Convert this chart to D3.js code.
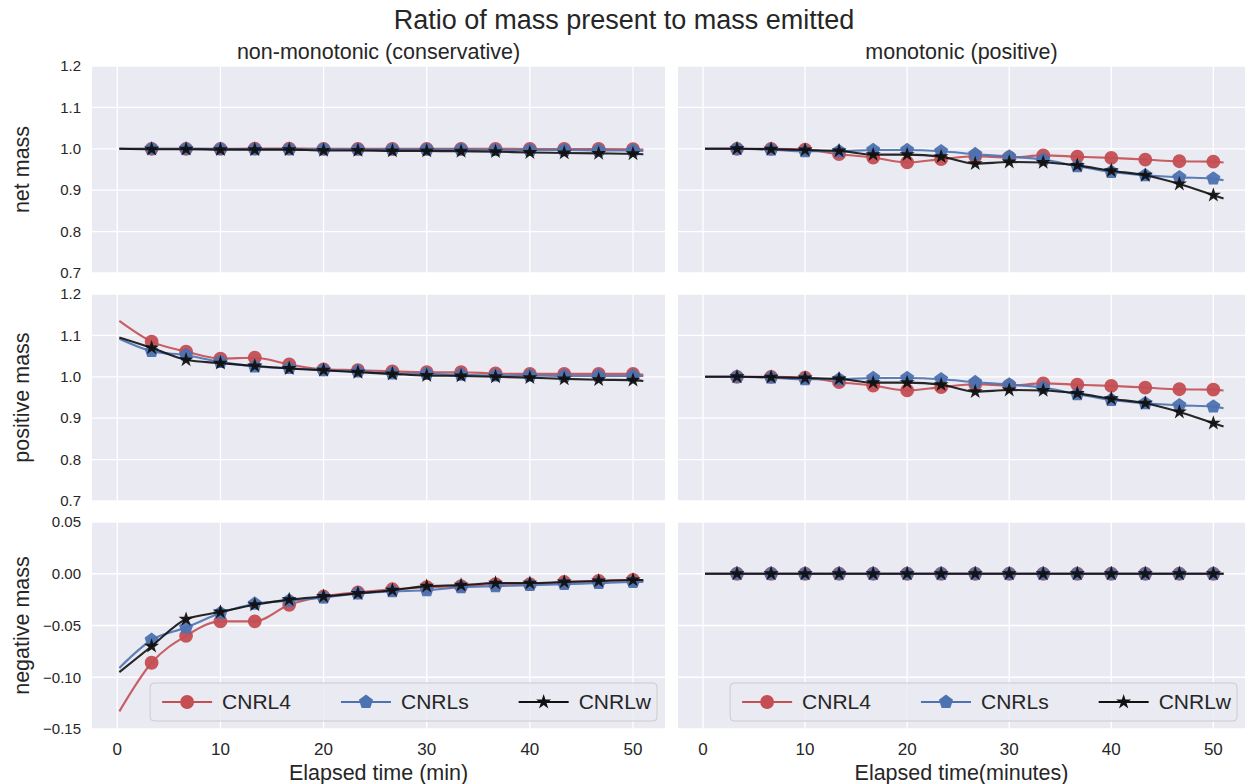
<!DOCTYPE html>
<html>
<head>
<meta charset="utf-8">
<script src="https://cdn.jsdelivr.net/npm/d3@7"></script>
<style>
  body { margin: 0; background: #fff; }
  text { font-family: "Liberation Sans", Arial, sans-serif; fill: #262626; }
</style>
</head>
<body>
<svg id="chart" width="1248" height="784"></svg>
<script>
// time axis (minutes); markers sit on every entry except the first and last
var minutes = [0.2, 3.33, 6.67, 10, 13.33, 16.67, 20, 23.33, 26.67, 30, 33.33, 36.67, 40, 43.33, 46.67, 50, 51];

var seriesNames = ["CNRL4", "CNRLs", "CNRLw"];
var colTitles = ["non-monotonic (conservative)", "monotonic (positive)"];
var rowLabels = ["net mass", "positive mass", "negative mass"];
var xLabels = ["Elapsed time (min)", "Elapsed time(minutes)"];

var xTicks = [0, 10, 20, 30, 40, 50];
var yTicksRatio = [0.7, 0.8, 0.9, 1.0, 1.1, 1.2];
var yTickLabelsRatio = ["0.7", "0.8", "0.9", "1.0", "1.1", "1.2"];
var yTicksNeg = [-0.15, -0.10, -0.05, 0.00, 0.05];
var yTickLabelsNeg = ["\u22120.15", "\u22120.10", "\u22120.05", "0.00", "0.05"];

// non-monotonic (conservative)
var netNonL4 = [1.0, 1.0, 1.0, 1.0, 1.0005, 1.0005, 1.0, 1.0, 1.0, 1.0, 1.0, 1.0, 0.9995, 0.9995, 0.9995, 0.999, 0.998];
var netNonLs = [1.0, 1.0, 1.0, 0.9995, 0.999, 0.999, 0.999, 0.998, 0.998, 0.998, 0.998, 0.997, 0.997, 0.997, 0.996, 0.996, 0.995];
var netNonLw = [1.0, 0.999, 0.999, 0.998, 0.998, 0.998, 0.996, 0.996, 0.995, 0.995, 0.994, 0.993, 0.991, 0.990, 0.989, 0.988, 0.987];

var posNonL4 = [1.135, 1.085, 1.061, 1.044, 1.046, 1.030, 1.018, 1.016, 1.013, 1.011, 1.011, 1.008, 1.007, 1.007, 1.007, 1.007, 1.005];
var posNonLs = [1.092, 1.062, 1.052, 1.036, 1.025, 1.021, 1.016, 1.013, 1.008, 1.007, 1.005, 1.003, 1.003, 1.002, 1.002, 1.002, 1.002];
var posNonLw = [1.095, 1.070, 1.041, 1.033, 1.026, 1.020, 1.016, 1.011, 1.007, 1.003, 1.002, 1.000, 0.998, 0.995, 0.993, 0.992, 0.990];

var negNonL4 = [-0.133, -0.086, -0.060, -0.046, -0.046, -0.030, -0.022, -0.018, -0.015, -0.013, -0.012, -0.010, -0.010, -0.008, -0.007, -0.006, -0.007];
var negNonLs = [-0.091, -0.064, -0.052, -0.038, -0.029, -0.026, -0.023, -0.019, -0.017, -0.016, -0.013, -0.012, -0.011, -0.010, -0.009, -0.008, -0.008];
var negNonLw = [-0.095, -0.070, -0.044, -0.037, -0.030, -0.025, -0.022, -0.019, -0.016, -0.012, -0.011, -0.009, -0.009, -0.008, -0.007, -0.006, -0.006];

// monotonic (positive)
var netMonL4 = [1.0, 1.0, 1.0, 0.998, 0.987, 0.979, 0.967, 0.975, 0.982, 0.979, 0.984, 0.981, 0.978, 0.974, 0.970, 0.969, 0.967];
var netMonLs = [1.0, 1.0, 0.998, 0.994, 0.994, 0.997, 0.997, 0.994, 0.987, 0.981, 0.974, 0.958, 0.944, 0.936, 0.931, 0.928, 0.924];
var netMonLw = [1.0, 1.0, 0.999, 0.997, 0.995, 0.986, 0.986, 0.981, 0.964, 0.968, 0.967, 0.960, 0.947, 0.936, 0.915, 0.888, 0.880];

var posMonL4 = [1.0, 1.0, 1.0, 0.998, 0.987, 0.979, 0.967, 0.975, 0.982, 0.979, 0.984, 0.981, 0.978, 0.974, 0.970, 0.969, 0.967];
var posMonLs = [1.0, 1.0, 0.998, 0.994, 0.994, 0.997, 0.997, 0.994, 0.987, 0.981, 0.974, 0.958, 0.944, 0.936, 0.931, 0.928, 0.924];
var posMonLw = [1.0, 1.0, 0.999, 0.997, 0.995, 0.986, 0.986, 0.981, 0.964, 0.968, 0.967, 0.960, 0.947, 0.936, 0.915, 0.888, 0.880];

var negMonL4 = [0, 0, 0, 0, 0, 0, 0, 0, 0, 0, 0, 0, 0, 0, 0, 0, 0];
var negMonLs = [0, 0, 0, 0, 0, 0, 0, 0, 0, 0, 0, 0, 0, 0, 0, 0, 0];
var negMonLw = [0, 0, 0, 0, 0, 0, 0, 0, 0, 0, 0, 0, 0, 0, 0, 0, 0];

var colors = ["#C44E52", "#4C72B0", "#111111"];
var markers = ["circle", "pentagon", "star"];

var svg = d3.select("svg#chart");

var cols = [{left: 92, width: 573}, {left: 678, width: 567}];
var rows = [{top: 66, height: 207}, {top: 294, height: 207}, {top: 522, height: 207}];

var panelData = [
  [[netNonL4, netNonLs, netNonLw], [netMonL4, netMonLs, netMonLw]],
  [[posNonL4, posNonLs, posNonLw], [posMonL4, posMonLs, posMonLw]],
  [[negNonL4, negNonLs, negNonLw], [negMonL4, negMonLs, negMonLw]]
];

function markerPath(type) {
  if (type === "star") return d3.symbol().type(d3.symbolStar).size(70)();
  if (type === "pentagon") {
    var r = 7.4, p = d3.path();
    for (var k = 0; k < 5; k++) {
      var a = -Math.PI / 2 + k * 2 * Math.PI / 5;
      if (k === 0) p.moveTo(r * Math.cos(a), r * Math.sin(a));
      else p.lineTo(r * Math.cos(a), r * Math.sin(a));
    }
    p.closePath();
    return p.toString();
  }
  return d3.symbol().type(d3.symbolCircle).size(150)();
}

// Title and column titles
svg.append("text")
  .attr("x", 624).attr("y", 29)
  .attr("text-anchor", "middle")
  .style("font-size", "27px")
  .text("Ratio of mass present to mass emitted");

cols.forEach(function(c, ci) {
  svg.append("text")
    .attr("x", c.left + c.width / 2).attr("y", 59)
    .attr("text-anchor", "middle")
    .style("font-size", "21.5px")
    .text(colTitles[ci]);
  svg.append("text")
    .attr("x", c.left + c.width / 2).attr("y", 780)
    .attr("text-anchor", "middle")
    .style("font-size", "21.5px")
    .text(xLabels[ci]);
});

rows.forEach(function(r, ri) {
  svg.append("text")
    .attr("transform", "translate(29," + (r.top + r.height / 2) + ") rotate(-90)")
    .attr("text-anchor", "middle")
    .style("font-size", "21.5px")
    .text(rowLabels[ri]);
});

rows.forEach(function(r, ri) {
  var isNeg = ri === 2;
  var yTicks = isNeg ? yTicksNeg : yTicksRatio;
  var yLabels = isNeg ? yTickLabelsNeg : yTickLabelsRatio;
  var y = d3.scaleLinear()
    .domain(isNeg ? [-0.15, 0.05] : [0.7, 1.2])
    .range([r.height, 0]);

  cols.forEach(function(c, ci) {
    var x = d3.scaleLinear().domain([-2.45, 53.1]).range([0, c.width]);
    var g = svg.append("g")
      .attr("transform", "translate(" + c.left + "," + r.top + ")");

    g.append("rect")
      .attr("width", c.width).attr("height", r.height)
      .attr("fill", "#EAEAF2");

    g.selectAll("line.gx").data(xTicks).enter().append("line")
      .attr("class", "gx")
      .attr("x1", function(d) { return x(d); }).attr("x2", function(d) { return x(d); })
      .attr("y1", 0).attr("y2", r.height)
      .attr("stroke", "#fff").attr("stroke-width", 1.3);

    g.selectAll("line.gy").data(yTicks).enter().append("line")
      .attr("class", "gy")
      .attr("x1", 0).attr("x2", c.width)
      .attr("y1", function(d) { return y(d); }).attr("y2", function(d) { return y(d); })
      .attr("stroke", "#fff").attr("stroke-width", 1.3);

    if (ci === 0) {
      g.selectAll("text.yt").data(yTicks).enter().append("text")
        .attr("class", "yt")
        .attr("x", -11)
        .attr("y", function(d) { return y(d); })
        .attr("dy", "0.35em")
        .attr("text-anchor", "end")
        .style("font-size", "15px")
        .text(function(d, i) { return yLabels[i]; });
    }
    if (ri === 2) {
      g.selectAll("text.xt").data(xTicks).enter().append("text")
        .attr("class", "xt")
        .attr("x", function(d) { return x(d); })
        .attr("y", r.height + 26)
        .attr("text-anchor", "middle")
        .style("font-size", "17px")
        .text(function(d) { return d; });
    }

    var line = d3.line()
      .x(function(d, i) { return x(minutes[i]); })
      .y(function(d) { return y(d); })
      .curve(d3.curveMonotoneX);

    panelData[ri][ci].forEach(function(vals, si) {
      g.append("path")
        .datum(vals)
        .attr("class", "line")
        .attr("d", line)
        .attr("fill", "none")
        .attr("stroke", colors[si])
        .attr("stroke-width", 2.1)
        .attr("stroke-opacity", 0.9);

      var pts = vals.map(function(v, i) { return {t: minutes[i], v: v}; })
        .filter(function(d, i) { return i > 0 && i < vals.length - 1; });

      g.selectAll("path.m" + si).data(pts).enter().append("path")
        .attr("class", "m" + si)
        .attr("d", markerPath(markers[si]))
        .attr("transform", function(d) { return "translate(" + x(d.t) + "," + y(d.v) + ")"; })
        .attr("fill", colors[si])
        .attr("fill-opacity", 0.95);
    });

    // legend only in the bottom row
    if (ri === 2) {
      var lg = g.append("g");
      var cursor = 12;
      seriesNames.forEach(function(name, si) {
        var it = lg.append("g").attr("transform", "translate(" + cursor + ",0)");
        it.append("line")
          .attr("x1", 0).attr("x2", 50).attr("y1", 0).attr("y2", 0)
          .attr("stroke", colors[si]).attr("stroke-width", 2.1);
        it.append("path")
          .attr("d", markerPath(markers[si]))
          .attr("transform", "translate(25,0)")
          .attr("fill", colors[si]);
        var t = it.append("text")
          .attr("x", 60).attr("dy", "0.35em")
          .style("font-size", "21px")
          .text(name);
        var w = t.node().getComputedTextLength();
        cursor += 60 + w + (si < 2 ? 50 : 6);
      });
      var boxW = cursor, boxH = 38;
      var bx = c.width - 8 - boxW, by = r.height - 8 - boxH;
      lg.attr("transform", "translate(" + bx + "," + (by + boxH / 2) + ")");
      lg.insert("rect", ":first-child")
        .attr("x", 0).attr("y", -boxH / 2)
        .attr("width", boxW).attr("height", boxH)
        .attr("rx", 4)
        .attr("fill", "#EAEAF2").attr("fill-opacity", 0.8)
        .attr("stroke", "#cccccc").attr("stroke-width", 1);
    }
  });
});
</script>
</body>
</html>
